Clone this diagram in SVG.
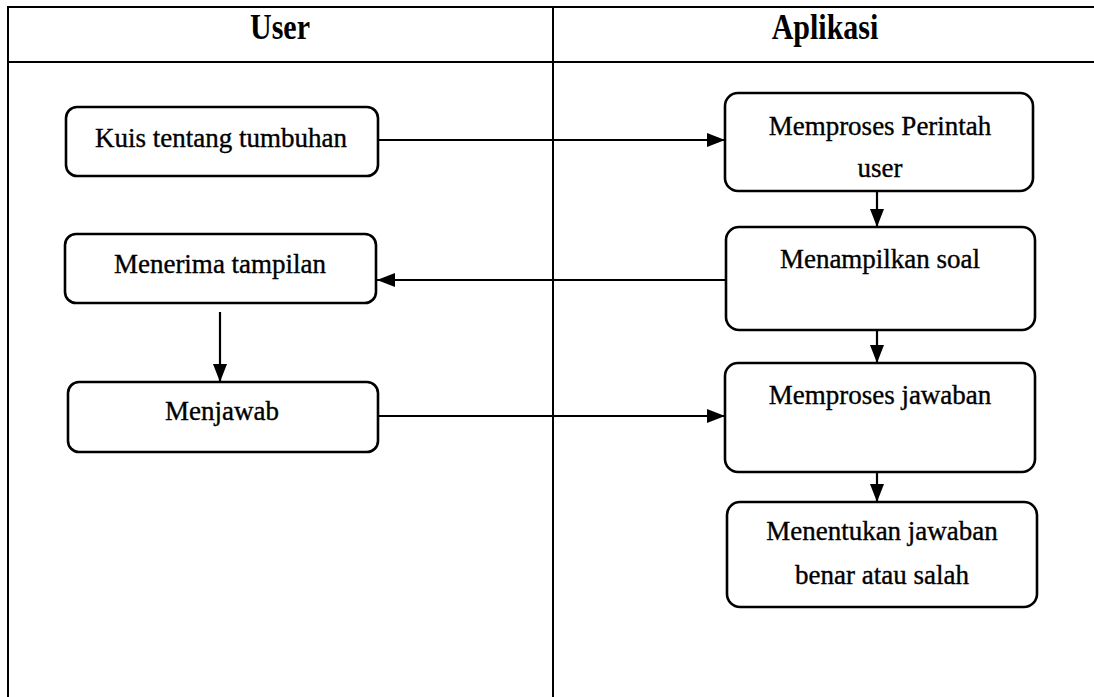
<svg xmlns="http://www.w3.org/2000/svg" width="1094" height="697" viewBox="0 0 1094 697">
<style>
.frame{stroke:#000;stroke-width:2;fill:none}
.box{fill:#fff;stroke:#000;stroke-width:2.6}
.t{font-family:"Liberation Serif","Times New Roman",serif;font-size:27px;fill:#000;text-anchor:middle;stroke:#000;stroke-width:0.35}
.h{font-family:"Liberation Serif","Times New Roman",serif;font-size:30px;font-weight:bold;fill:#000;text-anchor:middle}
.c{stroke:#000;stroke-width:2.2;fill:none}
</style>
<defs>
<marker id="ah" viewBox="0 0 18 14" refX="18" refY="7" markerWidth="18" markerHeight="14" markerUnits="userSpaceOnUse" orient="auto">
<path d="M0,0 L18,7 L0,14 Z" fill="#000"/>
</marker>
</defs>
<rect width="1094" height="697" fill="#fff"/>
<g id="lanes">
<line class="frame" x1="8" y1="7" x2="1094" y2="7"/>
<line class="frame" x1="8" y1="62" x2="1094" y2="62"/>
<line class="frame" x1="8" y1="6" x2="8" y2="697"/>
<line class="frame" x1="553" y1="6" x2="553" y2="697"/>
<text class="h" transform="translate(280,39) scale(1,1.2)">User</text>
<text class="h" transform="translate(825,39) scale(1,1.2)">Aplikasi</text>
</g>
<g id="connectors">
<line class="c" x1="378" y1="140" x2="725" y2="140" marker-end="url(#ah)"/>
<line class="c" x1="877" y1="191" x2="877" y2="227" marker-end="url(#ah)"/>
<line class="c" x1="726" y1="280" x2="377" y2="280" marker-end="url(#ah)"/>
<line class="c" x1="220" y1="312" x2="220" y2="382" marker-end="url(#ah)"/>
<line class="c" x1="378" y1="416" x2="725" y2="416" marker-end="url(#ah)"/>
<line class="c" x1="877" y1="330" x2="877" y2="363" marker-end="url(#ah)"/>
<line class="c" x1="877" y1="472" x2="877" y2="502" marker-end="url(#ah)"/>
</g>
<g id="kuis">
<rect class="box" x="66" y="107" width="312" height="69" rx="11"/>
<text class="t" x="221" y="147">Kuis tentang tumbuhan</text>
</g>
<g id="memproses-perintah">
<rect class="box" x="725" y="93" width="308" height="98" rx="13"/>
<text class="t" x="880" y="135">Memproses Perintah</text>
<text class="t" x="880" y="177">user</text>
</g>
<g id="menampilkan-soal">
<rect class="box" x="726" y="227" width="309" height="103" rx="13"/>
<text class="t" x="880" y="268">Menampilkan soal</text>
</g>
<g id="menerima-tampilan">
<rect class="box" x="65" y="234" width="311" height="69" rx="11"/>
<text class="t" x="220" y="273">Menerima tampilan</text>
</g>
<g id="menjawab">
<rect class="box" x="68" y="382" width="310" height="70" rx="11"/>
<text class="t" x="222" y="420">Menjawab</text>
</g>
<g id="memproses-jawaban">
<rect class="box" x="725" y="363" width="310" height="109" rx="13"/>
<text class="t" x="880" y="404">Memproses jawaban</text>
</g>
<g id="menentukan">
<rect class="box" x="727" y="502" width="310" height="105" rx="13"/>
<text class="t" x="882" y="540">Menentukan jawaban</text>
<text class="t" x="882" y="584">benar atau salah</text>
</g>
</svg>
